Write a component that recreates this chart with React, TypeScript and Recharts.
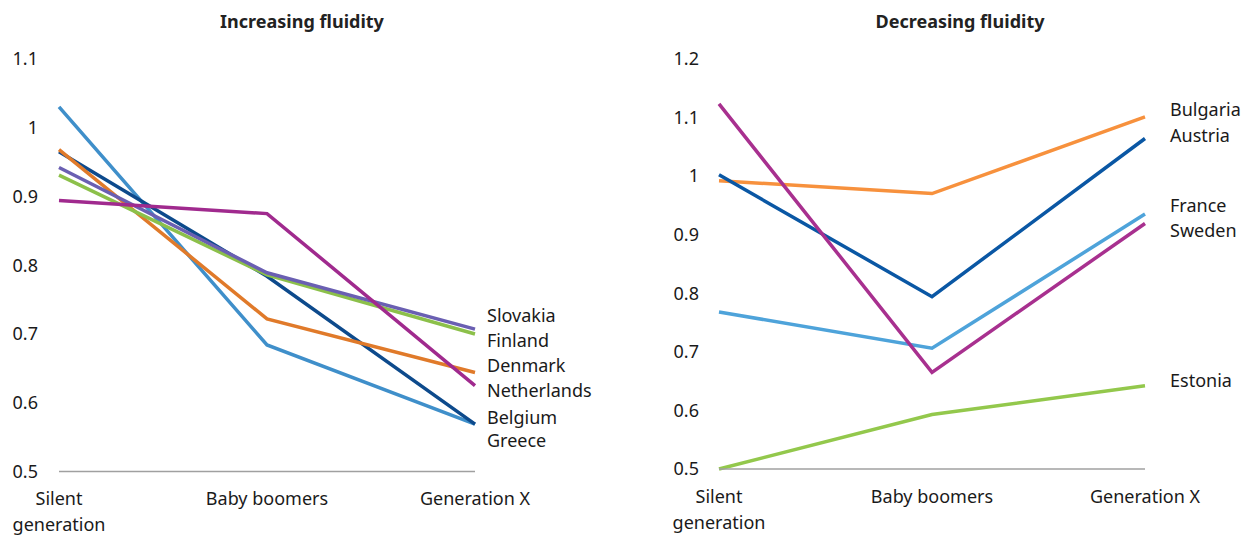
import React from "react";
import { LineChart, Line, XAxis, YAxis, LabelList } from "recharts";

const categories = ["Silent generation", "Baby boomers", "Generation X"];

// Increasing fluidity
const belgium = [1.03, 0.684, 0.569];
const denmark = [0.968, 0.722, 0.644];
const greece = [0.965, 0.784, 0.569];
const slovakia = [0.942, 0.789, 0.707];
const finland = [0.931, 0.786, 0.7];
const netherlands = [0.894, 0.875, 0.625];

// Decreasing fluidity
const bulgaria = [0.992, 0.97, 1.101];
const austria = [1.002, 0.794, 1.064];
const france = [0.768, 0.706, 0.935];
const sweden = [1.123, 0.665, 0.919];
const estonia = [0.5, 0.593, 0.642];

const leftTicks = [0.5, 0.6, 0.7, 0.8, 0.9, 1, 1.1];
const rightTicks = [0.5, 0.6, 0.7, 0.8, 0.9, 1, 1.1, 1.2];

const leftSeries = [
  { name: "Belgium", values: belgium, color: "#3f8fca", dy: -6 },
  { name: "Greece", values: greece, color: "#0d4a8c", dy: 17 },
  { name: "Denmark", values: denmark, color: "#e07a2a", dy: -7 },
  { name: "Finland", values: finland, color: "#8cc04a", dy: 7 },
  { name: "Slovakia", values: slovakia, color: "#6a5fb2", dy: -13 },
  { name: "Netherlands", values: netherlands, color: "#a02a8e", dy: 5 },
];

const rightSeries = [
  { name: "Bulgaria", values: bulgaria, color: "#f7913d", dy: -7 },
  { name: "Austria", values: austria, color: "#0a57a4", dy: -3 },
  { name: "France", values: france, color: "#4ea3da", dy: -8 },
  { name: "Sweden", values: sweden, color: "#a8308f", dy: 7 },
  { name: "Estonia", values: estonia, color: "#93c84c", dy: -5 },
];

const FONT = "'Noto Sans', sans-serif";
const TEXT = "#1a1a1a";

function buildData(series: { name: string; values: number[] }[]) {
  return categories.map((c, i) => {
    const row: Record<string, any> = { cat: c };
    series.forEach((s) => (row[s.name] = s.values[i]));
    return row;
  });
}

const makeXTick = (firstDy: number) => (props: any) => {
  const { x, y, payload } = props;
  const label: string = payload.value;
  const lines = label.length > 14 ? label.split(" ") : [label];
  return (
    <text x={x} y={y} textAnchor="middle" fill={TEXT} fontSize={18} fontFamily={FONT}>
      {lines.map((l, i) => (
        <tspan key={i} x={x} dy={i === 0 ? firstDy : 26}>
          {l}
        </tspan>
      ))}
    </text>
  );
};

const endLabel = (name: string, dx: number, dy: number) => (props: any) => {
  const { x, y, index } = props;
  if (index !== categories.length - 1) return null;
  return (
    <text x={x + dx} y={y + dy} dy="0.35em" fill={TEXT} fontSize={18} fontFamily={FONT}>
      {name}
    </text>
  );
};

function Panel(props: {
  series: typeof leftSeries;
  ticks: number[];
  width: number;
  yAxisWidth: number;
  right: number;
  bottom: number;
  labelDx: number;
  tickMargin: number;
  xTickDy: number;
}) {
  const { series, ticks, width, yAxisWidth, right, bottom, labelDx, tickMargin, xTickDy } = props;
  const data = buildData(series);
  const XTick = makeXTick(xTickDy);
  return (
    <LineChart
      width={width}
      height={538}
      data={data}
      margin={{ top: 58.8, right, left: 0, bottom: 0 }}
    >
      <XAxis
        dataKey="cat"
        scale="point"
        padding={{ left: 0, right: 0 }}
        height={bottom}
        axisLine={{ stroke: "#a0a0a0", strokeWidth: 1.5 }}
        tickLine={false}
        tick={<XTick />}
        interval={0}
      />
      <YAxis
        type="number"
        domain={[ticks[0], ticks[ticks.length - 1]]}
        ticks={ticks}
        width={yAxisWidth}
        axisLine={false}
        tickLine={false}
        tickMargin={tickMargin}
        tick={{ fill: TEXT, fontSize: 18, fontFamily: FONT }}
        interval={0}
      />
      {series.map((s) => (
        <Line
          key={s.name}
          dataKey={s.name}
          stroke={s.color}
          strokeWidth={3.5}
          dot={false}
          isAnimationActive={false}
          type="linear"
        >
          <LabelList dataKey={s.name} content={endLabel(s.name, labelDx, s.dy)} />
        </Line>
      ))}
    </LineChart>
  );
}

const titleStyle: React.CSSProperties = {
  position: "absolute",
  width: 240,
  top: 9,
  textAlign: "center",
  fontWeight: 700,
  fontSize: 18,
  color: "#222",
};

export default function App() {
  return (
    <div
      style={{
        position: "absolute",
        left: 0,
        top: 0,
        width: 1256,
        height: 538,
        background: "#fff",
        fontFamily: FONT,
      }}
    >
      <div style={{ ...titleStyle, left: 182 }}>Increasing fluidity</div>
      <div style={{ ...titleStyle, left: 840 }}>Decreasing fluidity</div>
      <div style={{ position: "absolute", left: 0, top: 0 }}>
        <Panel
          series={leftSeries}
          ticks={leftTicks}
          width={620}
          yAxisWidth={59}
          right={145}
          bottom={66.4}
          labelDx={12}
          tickMargin={15}
          xTickDy={25}
        />
      </div>
      <div style={{ position: "absolute", left: 620, top: 0 }}>
        <Panel
          series={rightSeries}
          ticks={rightTicks}
          width={636}
          yAxisWidth={99}
          right={111}
          bottom={69}
          labelDx={25}
          tickMargin={14}
          xTickDy={26}
        />
      </div>
    </div>
  );
}
